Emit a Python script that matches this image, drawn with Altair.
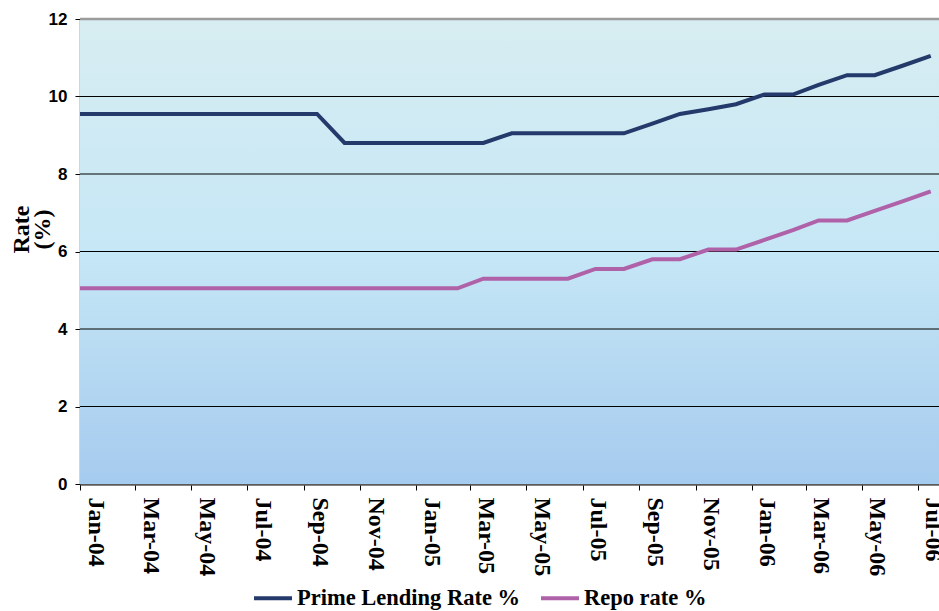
import altair as alt
import pandas as pd

# Monthly observations (mid-month); the first one sits just left of the axis start
MONTHS = [
    "2003-12-15",
    "2004-01-15", "2004-02-15", "2004-03-15", "2004-04-15", "2004-05-15", "2004-06-15",
    "2004-07-15", "2004-08-15", "2004-09-15", "2004-10-15", "2004-11-15", "2004-12-15",
    "2005-01-15", "2005-02-15", "2005-03-15", "2005-04-15", "2005-05-15", "2005-06-15",
    "2005-07-15", "2005-08-15", "2005-09-15", "2005-10-15", "2005-11-15", "2005-12-15",
    "2006-01-15", "2006-02-15", "2006-03-15", "2006-04-15", "2006-05-15", "2006-06-15",
    "2006-07-15",
]

PRIME_LENDING = [
    9.55,
    9.55, 9.55, 9.55, 9.55, 9.55, 9.55,
    9.55, 9.55, 9.55, 8.8, 8.8, 8.8,
    8.8, 8.8, 8.8, 9.05, 9.05, 9.05,
    9.05, 9.05, 9.3, 9.55, 9.67, 9.8,
    10.05, 10.05, 10.3, 10.55, 10.55, 10.8,
    11.05,
]

REPO = [
    5.05,
    5.05, 5.05, 5.05, 5.05, 5.05, 5.05,
    5.05, 5.05, 5.05, 5.05, 5.05, 5.05,
    5.05, 5.05, 5.3, 5.3, 5.3, 5.3,
    5.55, 5.55, 5.8, 5.8, 6.05, 6.05,
    6.3, 6.55, 6.8, 6.8, 7.05, 7.3,
    7.55,
]

SERIES = ["Prime Lending Rate %", "Repo rate %"]
COLORS = ["#243a6b", "#b062a9"]

TICK_DATES = [
    "2004-01-01", "2004-03-01", "2004-05-01", "2004-07-01", "2004-09-01", "2004-11-01",
    "2005-01-01", "2005-03-01", "2005-05-01", "2005-07-01", "2005-09-01", "2005-11-01",
    "2006-01-01", "2006-03-01", "2006-05-01", "2006-07-01",
]
X_DOMAIN = ["2004-01-01", "2006-07-24"]
Y_TICKS = [0, 2, 4, 6, 8, 10, 12]
GRID_VALUES = [2, 4, 6, 8, 10]

W, H = 859, 465


def to_ms(d):
    return int(pd.Timestamp(d, tz="UTC").timestamp() * 1000)


df = pd.DataFrame({"month": MONTHS, SERIES[0]: PRIME_LENDING, SERIES[1]: REPO}).melt(
    "month", var_name="series", value_name="rate"
)

x_scale = alt.Scale(type="utc", domain=[to_ms(d) for d in X_DOMAIN], nice=False)
y_scale = alt.Scale(domain=[0, 12], nice=False, zero=True)

y_axis = alt.Axis(
    values=Y_TICKS,
    labelFont="Liberation Sans",
    labelFontWeight="bold",
    labelFontSize=17,
    labelColor="black",
    labelPadding=8,
    tickColor="black",
    tickSize=5,
    domainColor="#555555",
    domainWidth=1.5,
    grid=False,
    title=["Rate", "(%)"],
    titleFont="Liberation Serif",
    titleFontWeight="bold",
    titleFontSize=24,
    titleColor="black",
    titleAngle=-90,
    titleAlign="center",
    titleBaseline="alphabetic",
    titleLineHeight=21,
    titleX=-52,
    titleY=210,
)

gradient = alt.LinearGradient(
    gradient="linear",
    stops=[
        alt.GradientStop(color="#d7edf1", offset=0),
        alt.GradientStop(color="#c6e7f6", offset=0.5),
        alt.GradientStop(color="#a5cbee", offset=1),
    ],
    x1=0, x2=0, y1=0, y2=1,
)

background = alt.Chart(pd.DataFrame({"k": [0]})).mark_rect(color=gradient).encode(
    x=alt.value(0), x2=alt.value(W), y=alt.value(0), y2=alt.value(H)
)

grid = alt.Chart(pd.DataFrame({"rate": GRID_VALUES})).mark_rule(
    color="black", strokeWidth=1
).encode(y=alt.Y("rate:Q", scale=y_scale, axis=y_axis))

top_edge = alt.Chart(pd.DataFrame({"rate": [12]})).mark_rule(
    color="#9c9c9c", strokeWidth=2.5
).encode(y=alt.Y("rate:Q", scale=y_scale, axis=y_axis))

lines = alt.Chart(df).mark_line(strokeWidth=4, clip=True).encode(
    x=alt.X(
        "month:T",
        scale=x_scale,
        axis=alt.Axis(
            values=[to_ms(d) for d in TICK_DATES],
            labelExpr="utcFormat(datum.value, '%b-%y')",
            labelAngle=90,
            labelAlign="left",
            labelBaseline="middle",
            labelOffset=15,
            labelPadding=7,
            labelFont="Liberation Serif",
            labelFontWeight="bold",
            labelFontSize=24,
            labelColor="black",
            labelOverlap=False,
            labelFlush=False,
            labelBound=False,
            tickColor="black",
            tickSize=6,
            domainColor="#5a5a5a",
            domainWidth=2.5,
            grid=False,
            title=None,
        ),
    ),
    y=alt.Y("rate:Q", scale=y_scale, axis=y_axis),
    color=alt.Color(
        "series:N",
        scale=alt.Scale(domain=SERIES, range=COLORS),
        legend=alt.Legend(
            orient="none",
            legendX=172,
            legendY=558,
            direction="horizontal",
            title=None,
            symbolType="stroke",
            symbolStrokeWidth=4,
            symbolSize=1444,
            labelFont="Liberation Serif",
            labelFontWeight="bold",
            labelFontSize=22.5,
            labelColor="black",
            labelOffset=3,
            labelLimit=0,
            columnPadding=12,
        ),
    ),
)

chart = (
    alt.layer(background, grid, top_edge, lines)
    .properties(
        width=W,
        height=H,
        autosize=alt.AutoSizeParams(type="none"),
        padding={"left": 80, "top": 19, "right": 0, "bottom": 127},
        background="white",
    )
    .configure_view(stroke=None)
)

chart.save("out.html", embed_options={"renderer": "svg", "actions": False})
